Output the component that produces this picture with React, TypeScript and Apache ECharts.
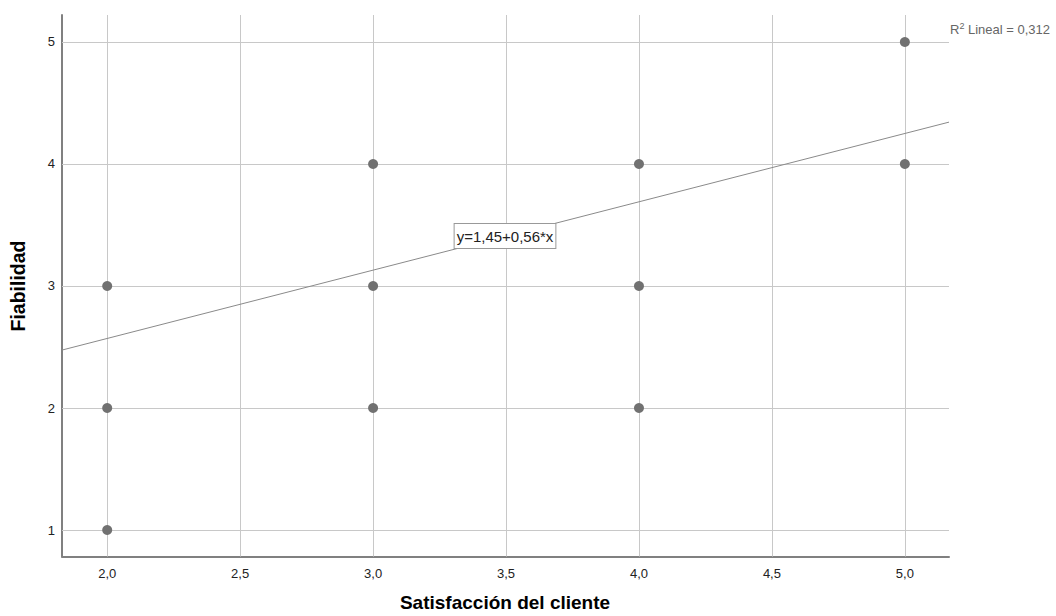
import React, { useEffect, useRef } from "react";
import * as echarts from "echarts";

const xTicks = [2, 2.5, 3, 3.5, 4, 4.5, 5];
const yTicks = [1, 2, 3, 4, 5];
const satisfaccion = [2, 2, 2, 3, 3, 3, 4, 4, 4, 5, 5];
const fiabilidad = [3, 2, 1, 4, 3, 2, 4, 3, 2, 5, 4];
const intercept = 1.45;
const slope = 0.56;
const r2Text = "0,312";
const xRange = [1.83, 5.166];
const yRange = [0.783, 5.221];

const fmtX = (v: number) => v.toFixed(1).replace(".", ",");
const fmtCoef = (v: number) => v.toFixed(2).replace(".", ",");

export default function App() {
  const ref = useRef<HTMLDivElement>(null);
  useEffect(() => {
    if (!ref.current) return;
    const chart = echarts.init(ref.current, undefined, { renderer: "svg" });
    const font = "Arial, 'Liberation Sans', sans-serif";
    const points = satisfaccion.map((x, i) => [x, fiabilidad[i]]);
    const fitLine = xRange.map((x) => [x, intercept + slope * x]);
    chart.setOption({
      animation: false,
      backgroundColor: "#ffffff",
      grid: { left: 62, top: 15, width: 887, height: 541.5, containLabel: false },
      xAxis: {
        type: "value",
        min: xRange[0],
        max: xRange[1],
        axisLine: { show: true, onZero: false, lineStyle: { color: "#808080", width: 2 } },
        axisTick: { show: false },
        splitLine: { show: false },
        axisLabel: {
          customValues: xTicks,
          formatter: (v: number) => fmtX(v),
          fontSize: 13,
          color: "#222",
          fontFamily: font,
          margin: 10,
        },
      },
      yAxis: {
        type: "value",
        min: yRange[0],
        max: yRange[1],
        axisLine: { show: true, onZero: false, lineStyle: { color: "#808080", width: 2 } },
        axisTick: { show: false },
        splitLine: { show: false },
        axisLabel: {
          customValues: yTicks,
          formatter: (v: number) => String(v),
          fontSize: 13,
          color: "#222",
          fontFamily: font,
          margin: 7,
        },
      },
      series: [
        {
          type: "line",
          data: [],
          z: 1,
          silent: true,
          markLine: {
            silent: true,
            z: 1,
            symbol: "none",
            label: { show: false },
            lineStyle: { color: "#c8c8c8", width: 1, type: "solid" },
            data: [
              ...xTicks.map((v) => ({ xAxis: v })),
              ...yTicks.map((v) => ({ yAxis: v })),
            ],
          },
        },
        {
          type: "line",
          data: fitLine,
          z: 2,
          symbol: "none",
          silent: true,
          lineStyle: { color: "#8a8a8a", width: 1 },
        },
        {
          type: "scatter",
          data: points,
          z: 6,
          symbolSize: 10,
          itemStyle: { color: "#717171", opacity: 1 },
        },
      ],
      graphic: [
        {
          type: "text",
          x: 18,
          y: 286,
          rotation: Math.PI / 2,
          style: {
            text: "Fiabilidad",
            font: `bold 19.5px ${font}`,
            fill: "#000",
            align: "center",
            verticalAlign: "middle",
          },
        },
        {
          type: "text",
          x: 505,
          y: 602,
          style: {
            text: "Satisfacción del cliente",
            font: `bold 19px ${font}`,
            fill: "#000",
            align: "center",
            verticalAlign: "middle",
          },
        },
        {
          type: "text",
          x: 505,
          y: 236,
          z: 10,
          style: {
            text: `y=${fmtCoef(intercept)}+${fmtCoef(slope)}*x`,
            font: `15px ${font}`,
            fill: "#222",
            align: "center",
            verticalAlign: "middle",
            backgroundColor: "#ffffff",
            borderColor: "#999999",
            borderWidth: 1,
            padding: [5, 2, 4, 2],
          },
        },
        {
          type: "text",
          x: 950,
          y: 29,
          style: {
            text: `{n|R}{s|2}{n| Lineal = ${r2Text}}`,
            align: "left",
            verticalAlign: "middle",
            rich: {
              n: { fontSize: 13, fill: "#666", fontFamily: font },
              s: { fontSize: 9, fill: "#666", fontFamily: font, verticalAlign: "top", padding: [0, 0, 7, 0] },
            },
          },
        },
      ],
    });
    return () => chart.dispose();
  }, []);
  return (
    <div
      ref={ref}
      style={{ position: "fixed", left: 0, top: 0, width: 1056, height: 616 }}
    />
  );
}
